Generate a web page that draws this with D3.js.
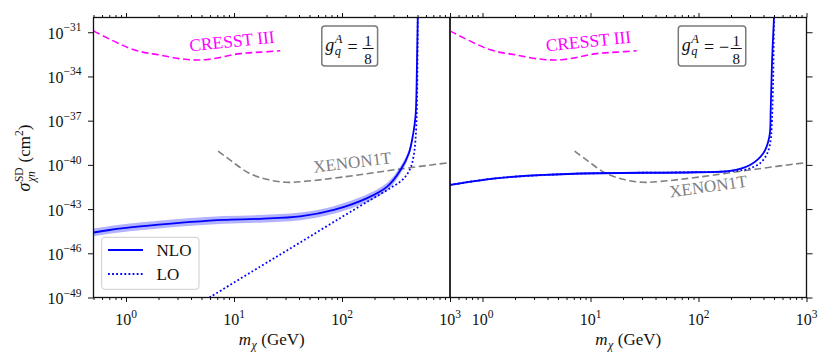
<!DOCTYPE html>
<html>
<head>
<meta charset="utf-8">
<script src="https://cdn.jsdelivr.net/npm/d3@7/dist/d3.min.js"></script>
<style>
  body { margin: 0; background: #fff; }
  svg text { font-family: "Liberation Serif", "DejaVu Serif", serif; fill: #111; }
</style>
</head>
<body>
<svg id="chart" width="831" height="361"></svg>
<script>
// masses in GeV, cross sections stored as log10(sigma / cm^2)
var cresstMass = [0.5, 1.16, 2.07, 3.68, 5.64, 11.4, 17.5, 26.8];
var cresstLog = [-30.91, -32.17, -32.55, -32.85, -32.85, -32.45, -32.35, -32.26];

var xenonMass = [7.13, 9.5, 13.7, 20, 30, 45, 100, 348, 1000];
var xenonLog = [-39.06, -39.75, -40.55, -40.98, -41.18, -41.12, -40.83, -40.28, -39.84];

// g_q^A = 1/8
var nloPlusMass = [0.5, 0.7, 1.0, 2.0, 4.0, 8.0, 17.5, 41, 84, 171, 262, 348, 416, 457, 479, 487, 495, 503];
var nloPlusLog = [-44.59, -44.42, -44.28, -44.06, -43.87, -43.73, -43.66, -43.5, -43.06, -42.26, -41.48, -40.35, -39.21, -37.86, -36.73, -35.6, -32.9, -30.0];
var nloPlusHigh = [-44.32, -44.16, -44.02, -43.80, -43.61, -43.47, -43.40, -43.24, -42.80, -42.00, -41.22, -40.10, -38.98, -37.66, -36.55, -35.45, -32.8, -30.0];
var nloPlusLow = [-44.86, -44.68, -44.54, -44.32, -44.13, -43.99, -43.92, -43.76, -43.32, -42.52, -41.74, -40.60, -39.44, -38.06, -36.91, -35.75, -33.0, -30.0];
var loPlusMass = [5.93, 17.5, 41.1, 96.6, 183, 281, 371, 431, 462, 479, 493, 503];
var loPlusLog = [-49.0, -46.90, -45.26, -43.60, -42.38, -41.57, -40.95, -40.21, -39.33, -38.31, -36.28, -30.0];

// g_q^A = -1/8
var nloMinusMass = [0.5, 1.33, 3.84, 11.1, 93, 196, 300, 398, 453, 466, 480, 500];
var nloMinusLog = [-41.36, -40.91, -40.68, -40.57, -40.50, -40.41, -40.01, -39.21, -38.09, -36.28, -32.9, -30.0];
var nloMinusHigh = [-41.29, -40.84, -40.61, -40.50, -40.43, -40.34, -39.95, -39.16, -38.05, -36.25, -32.88, -30.0];
var nloMinusLow = [-41.43, -40.98, -40.75, -40.64, -40.57, -40.48, -40.07, -39.26, -38.13, -36.31, -32.92, -30.0];
var loMinusMass = [0.5, 1.33, 3.84, 11.1, 93, 196, 280, 371, 434, 466, 476, 490, 500];
var loMinusLog = [-41.36, -40.91, -40.68, -40.57, -40.50, -40.43, -40.30, -39.89, -39.21, -38.31, -37.41, -34.5, -30.0];

var xMajorTicks = [1, 10, 100, 1000];
var xTickExps = ['0', '1', '2', '3'];
var xMinorTicks = [0.5, 0.6, 0.7, 0.8, 0.9, 2, 3, 4, 5, 6, 7, 8, 9, 20, 30, 40, 50, 60, 70, 80, 90, 200, 300, 400, 500, 600, 700, 800, 900];
var yTickExps = [-31, -34, -37, -40, -43, -46, -49];

var couplingSign = ['', '\u2212'];
var legendLabels = ['NLO', 'LO'];

var svg = d3.select('#chart');
var top_ = 17.5, bottom = 297.5;

var y = d3.scaleLog().domain([1e-49, 1e-30]).range([bottom, top_]);
function yLog(v) { return y(Math.pow(10, v)); }

function zip(mass, vals) {
  return mass.map(function(m, i) { return [m, vals[i]]; });
}

function drawPanel(index, x0, x1, nlo, band, lo) {
  var x = d3.scaleLog().domain([0.5, 1000]).range([x0, x1]);
  var g = svg.append('g');

  var clipId = 'clip' + index;
  g.append('clipPath').attr('id', clipId)
    .append('rect').attr('x', x0).attr('y', top_).attr('width', x1 - x0).attr('height', bottom - top_);

  var plot = g.append('g').attr('clip-path', 'url(#' + clipId + ')');

  var curve = d3.curveCatmullRom.alpha(0.5);
  var line = d3.line()
    .x(function(d) { return x(d[0]); })
    .y(function(d) { return yLog(d[1]); })
    .curve(curve);

  var area = d3.area()
    .x(function(d) { return x(d[0]); })
    .y0(function(d) { return yLog(d[1]); })
    .y1(function(d) { return yLog(d[2]); })
    .curve(curve);

  // experimental limits
  plot.append('path').datum(zip(cresstMass, cresstLog))
    .attr('d', line).attr('fill', 'none')
    .attr('stroke', '#ff00ff').attr('stroke-width', 1.6).attr('stroke-dasharray', '7,3.5');
  plot.append('path').datum(zip(xenonMass, xenonLog))
    .attr('d', line).attr('fill', 'none')
    .attr('stroke', '#808080').attr('stroke-width', 1.6).attr('stroke-dasharray', '7,3.5');

  // NLO band + lines
  var bandData = band.mass.map(function(m, i) { return [m, band.low[i], band.high[i]]; });
  plot.append('path').datum(bandData)
    .attr('d', area).attr('fill', '#0000ff').attr('fill-opacity', 0.3);
  plot.append('path').datum(zip(nlo.mass, nlo.log))
    .attr('d', line).attr('fill', 'none')
    .attr('stroke', '#0000ff').attr('stroke-width', 1.8);
  plot.append('path').datum(zip(lo.mass, lo.log))
    .attr('d', line).attr('fill', 'none')
    .attr('stroke', '#0000ff').attr('stroke-width', 1.8)
    .attr('stroke-dasharray', '1.8,2.3');

  // text labels on the limits
  g.append('text')
    .attr('transform', 'translate(' + (x0 + 139) + ',47) rotate(-6)')
    .attr('text-anchor', 'middle').attr('font-size', 17.5)
    .style('fill', '#ff00ff').text('CRESST III');

  if (index === 0) {
    g.append('text')
      .attr('transform', 'translate(' + (x0 + 259.5) + ',168) rotate(-7)')
      .attr('text-anchor', 'middle').attr('font-size', 17)
      .style('fill', '#808080').text('XENON1T');
  } else {
    g.append('text')
      .attr('transform', 'translate(' + (x0 + 259) + ',192) rotate(-8)')
      .attr('text-anchor', 'middle').attr('font-size', 17)
      .style('fill', '#808080').text('XENON1T');
  }

  // ticks
  var noLabel = function() { return ''; };
  g.append('g').attr('transform', 'translate(0,' + bottom + ')')
    .call(d3.axisBottom(x).tickValues(xMajorTicks).tickSize(4.5).tickSizeOuter(0).tickFormat(noLabel));
  g.append('g').attr('transform', 'translate(0,' + bottom + ')')
    .call(d3.axisBottom(x).tickValues(xMinorTicks).tickSize(2.5).tickSizeOuter(0).tickFormat(noLabel));
  g.append('g').attr('transform', 'translate(0,' + top_ + ')')
    .call(d3.axisTop(x).tickValues(xMajorTicks).tickSize(4.5).tickSizeOuter(0).tickFormat(noLabel));
  g.append('g').attr('transform', 'translate(0,' + top_ + ')')
    .call(d3.axisTop(x).tickValues(xMinorTicks).tickSize(2.5).tickSizeOuter(0).tickFormat(noLabel));

  var yTicks = yTickExps.map(function(e) { return Math.pow(10, e); });
  if (index === 0) {
    g.append('g').attr('transform', 'translate(' + x0 + ',0)')
      .call(d3.axisLeft(y).tickValues(yTicks).tickSize(5.5).tickSizeOuter(0).tickFormat(noLabel));
    yTickExps.forEach(function(e) {
      var t = g.append('text').attr('x', x0 - 12).attr('y', yLog(e) + 6.5)
        .attr('text-anchor', 'end').attr('font-size', 16).text('10');
      t.append('tspan').attr('dy', -7.5).attr('font-size', 11.5).text('\u2212' + Math.abs(e));
    });
  } else {
    g.append('g').attr('transform', 'translate(' + x1 + ',0)')
      .call(d3.axisRight(y).tickValues(yTicks).tickSize(6).tickSizeOuter(0).tickFormat(noLabel));
  }
  g.selectAll('.domain').remove();
  g.selectAll('.tick line').attr('stroke', '#111').attr('stroke-width', 1);

  xMajorTicks.forEach(function(v, i) {
    var t = g.append('text').attr('x', x(v)).attr('y', 325)
      .attr('text-anchor', 'middle').attr('font-size', 16).text('10');
    t.append('tspan').attr('dy', -7.5).attr('font-size', 11.5).text(xTickExps[i]);
  });

  // spine
  g.append('rect').attr('x', x0).attr('y', top_)
    .attr('width', x1 - x0).attr('height', bottom - top_)
    .attr('fill', 'none').attr('stroke', '#111').attr('stroke-width', 1.3);

  // x label  m_chi (GeV)
  var lab = g.append('g');
  var m = lab.append('text').attr('x', 0).attr('y', 345).attr('font-size', 17)
    .attr('font-style', 'italic').text('m');
  var mw = m.node().getComputedTextLength();
  var chi = lab.append('text').attr('x', mw + 0.5).attr('y', 349).attr('font-size', 12)
    .attr('font-style', 'italic').text('\u03c7');
  var cw = chi.node().getComputedTextLength();
  var gev = lab.append('text').attr('x', mw + cw + 5).attr('y', 345).attr('font-size', 17).text('(GeV)');
  var total = mw + cw + 5 + gev.node().getComputedTextLength();
  lab.attr('transform', 'translate(' + ((x0 + x1) / 2 - total / 2) + ',0)');

  // coupling box
  var bx = x0 + 228.3, by = 26;
  var box = g.append('g');
  var rect = box.append('rect').attr('x', bx).attr('y', by).attr('height', 40).attr('rx', 3)
    .attr('fill', '#fff').attr('stroke', '#7a7a7a').attr('stroke-width', 1.5);
  var cx = bx + 3.5;
  var gq = box.append('text').attr('x', cx).attr('y', 51).attr('font-size', 18)
    .attr('font-style', 'italic').text('g');
  cx += gq.node().getComputedTextLength() + 0.5;
  var supA = box.append('text').attr('x', cx).attr('y', 42.5).attr('font-size', 12.5)
    .attr('font-style', 'italic').text('A');
  box.append('text').attr('x', cx).attr('y', 55).attr('font-size', 12.5)
    .attr('font-style', 'italic').text('q');
  cx += supA.node().getComputedTextLength() + 5;
  var eq = box.append('text').attr('x', cx).attr('y', 53).attr('font-size', 18).text('=');
  cx += eq.node().getComputedTextLength() + 5;
  if (couplingSign[index]) {
    var minus = box.append('text').attr('x', cx).attr('y', 53).attr('font-size', 18).text(couplingSign[index]);
    cx += minus.node().getComputedTextLength() + 1.5;
  }
  box.append('line').attr('x1', cx).attr('x2', cx + 11).attr('y1', 48.5).attr('y2', 48.5)
    .attr('stroke', '#111').attr('stroke-width', 1);
  box.append('text').attr('x', cx + 5.5).attr('y', 46).attr('text-anchor', 'middle')
    .attr('font-size', 15).text('1');
  box.append('text').attr('x', cx + 5.5).attr('y', 63.5).attr('text-anchor', 'middle')
    .attr('font-size', 15).text('8');
  cx += 11 + 4;
  rect.attr('width', cx - bx);

  return x;
}

drawPanel(0, 93.5, 450,
  { mass: nloPlusMass, log: nloPlusLog },
  { mass: nloPlusMass, low: nloPlusLow, high: nloPlusHigh },
  { mass: loPlusMass, log: loPlusLog });

drawPanel(1, 450, 806.5,
  { mass: nloMinusMass, log: nloMinusLog },
  { mass: nloMinusMass, low: nloMinusLow, high: nloMinusHigh },
  { mass: loMinusMass, log: loMinusLog });

// legend in the left panel
var legend = svg.append('g');
legend.append('rect').attr('x', 101.7).attr('y', 237.3).attr('width', 97.3).attr('height', 52)
  .attr('rx', 3).attr('fill', '#fff').attr('fill-opacity', 0.85)
  .attr('stroke', '#cccccc').attr('stroke-width', 1);
legendLabels.forEach(function(label, i) {
  var ly = 250 + i * 24;
  legend.append('line').attr('x1', 108).attr('x2', 143).attr('y1', ly).attr('y2', ly)
    .attr('stroke', '#0000ff').attr('stroke-width', 1.8)
    .attr('stroke-dasharray', i === 1 ? '1.8,2.3' : null);
  legend.append('text').attr('x', 156.5).attr('y', ly + 6.3).attr('font-size', 17).text(label);
});

// y label  sigma^SD_chi n (cm^2)
var yl = svg.append('g').attr('transform', 'translate(30,158) rotate(-90)');
var inner = yl.append('g');
var px = 0;
var sig = inner.append('text').attr('x', px).attr('y', 0).attr('font-size', 18)
  .attr('font-style', 'italic').text('\u03c3');
px += sig.node().getComputedTextLength() + 0.5;
var sd = inner.append('text').attr('x', px).attr('y', -7.5).attr('font-size', 11.5).text('SD');
var chin = inner.append('text').attr('x', px).attr('y', 5).attr('font-size', 11.5)
  .attr('font-style', 'italic').text('\u03c7n');
px += Math.max(sd.node().getComputedTextLength(), chin.node().getComputedTextLength()) + 5;
var cm = inner.append('text').attr('x', px).attr('y', 0).attr('font-size', 17).text('(cm');
px += cm.node().getComputedTextLength();
var two = inner.append('text').attr('x', px).attr('y', -7.5).attr('font-size', 11.5).text('2');
px += two.node().getComputedTextLength();
var close = inner.append('text').attr('x', px).attr('y', 0).attr('font-size', 17).text(')');
px += close.node().getComputedTextLength();
inner.attr('transform', 'translate(' + (-px / 2) + ',0)');
</script>
</body>
</html>
